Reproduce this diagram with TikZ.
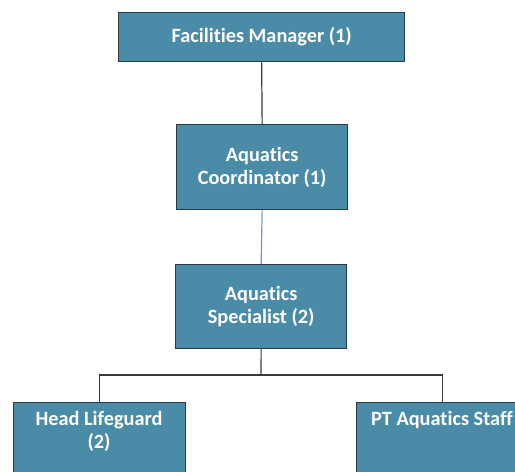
\documentclass[tikz,border=0pt]{standalone}
\usepackage{fontspec}
\setmainfont[Ligatures={NoCommon}]{Carlito}
\definecolor{boxfill}{HTML}{4A8BA8}
\definecolor{boxline}{HTML}{2B3A40}
\definecolor{conn}{HTML}{3A3A3A}
\definecolor{blueconn}{HTML}{7A8FD0}
\begin{document}
\begin{tikzpicture}[x=1bp,y=-1bp,
  orgbox/.style={draw=boxline,fill=boxfill,line width=1.3bp,inner sep=0pt,
    text=white,font=\fontsize{20.3bp}{23bp}\selectfont\bfseries,align=center,anchor=north west},
  lbl/.style={font=\fontsize{20.3bp}{23bp}\selectfont\bfseries,text=white,align=center,anchor=north,inner sep=0pt},
  link/.style={draw=conn,line width=1.2bp}]
\useasboundingbox (0,0) rectangle (515,472);
\clip (0,0) rectangle (515,472);
\node[orgbox,minimum width=286bp,minimum height=49bp] (fm) at (118,12) {Facilities Manager (1)};
\node[orgbox,minimum width=171bp,minimum height=85bp] (ac) at (176,124) {Aquatics\\Coordinator (1)};
\node[orgbox,minimum width=171bp,minimum height=84bp] (as) at (175,264) {Aquatics\\Specialist (2)};
\node[orgbox,minimum width=172bp,minimum height=100bp] (hl) at (13,402) {};
\node[lbl] (hlt) at (99,411) {Head Lifeguard\\(2)};
\node[orgbox,minimum width=172bp,minimum height=100bp] (pt) at (356,402) {};
\node[lbl] (ptt) at (442,411) {PT Aquatics Staff};
\coordinate (hb) at (261,375);
\draw[link] (fm.south) -- (ac.north);
\draw[draw=blueconn,line width=1.2bp] (ac.south) -- (as.north);
\draw[link] (as.south) -- (hb);
\draw[link] (hl.north) |- (hb) -| (pt.north);
\end{tikzpicture}
\end{document}
